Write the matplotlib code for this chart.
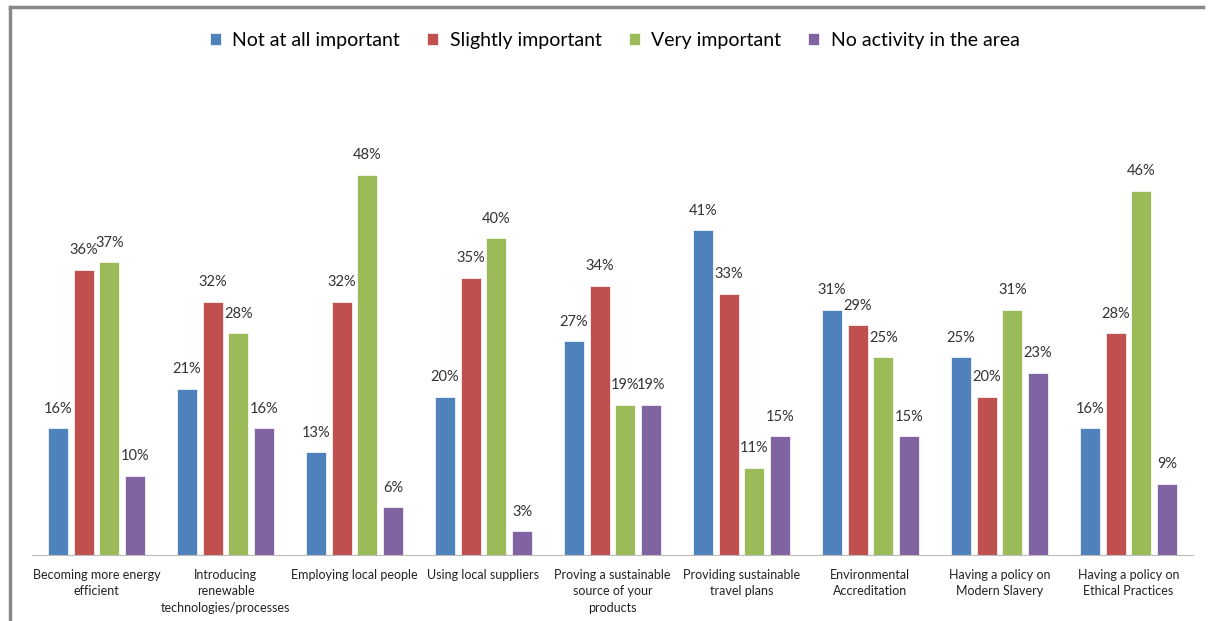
import numpy as np
import matplotlib.pyplot as plt
from matplotlib.lines import Line2D

plt.rcParams['font.family'] = ['Lato', 'DejaVu Sans']

categories = ['Becoming more energy\nefficient',
              'Introducing\nrenewable\ntechnologies/processes',
              'Employing local people',
              'Using local suppliers',
              'Proving a sustainable\nsource of your\nproducts',
              'Providing sustainable\ntravel plans',
              'Environmental\nAccreditation',
              'Having a policy on\nModern Slavery',
              'Having a policy on\nEthical Practices']
series = ['Not at all important', 'Slightly important', 'Very important', 'No activity in the area']
not_at_all = [16, 21, 13, 20, 27, 41, 31, 25, 16]
slightly = [36, 32, 32, 35, 34, 33, 29, 20, 28]
very = [37, 28, 48, 40, 19, 11, 25, 31, 46]
no_activity = [10, 16, 6, 3, 19, 15, 15, 23, 9]
colors = ['#4F81BD', '#C0504D', '#9BBB59', '#8064A2']

fig = plt.figure(figsize=(12.08, 6.21), dpi=100)
ax = fig.add_axes([0.0265, 0.1063, 0.961, 0.765])

x = np.arange(len(categories))
width = 0.155
offsets = [-0.3, -0.1, 0.1, 0.3]
for vals, name, col, off in zip([not_at_all, slightly, very, no_activity], series, colors, offsets):
    bars = ax.bar(x + off, vals, width, color=col, label=name, edgecolor='white', linewidth=0.5)
    for b, v in zip(bars, vals):
        ax.annotate('%d%%' % v, (b.get_x() + b.get_width() / 2, v),
                    xytext=(0, 9), textcoords='offset points',
                    ha='center', va='bottom', fontsize=10.5, color='#333333')

ax.set_xlim(-0.5, len(categories) - 0.5)
ax.set_ylim(0, 60)
ax.set_yticks([])
ax.set_xticks(x)
ax.set_xticklabels(categories, fontsize=9, color='#222222', linespacing=1.45)
ax.tick_params(axis='x', length=0, pad=10)
for s in ['top', 'left', 'right']:
    ax.spines[s].set_visible(False)
ax.spines['bottom'].set_color('#BBBBBB')

fig.legend(loc='upper center', bbox_to_anchor=(0.509, 0.977), ncol=4, frameon=False,
           fontsize=14, handlelength=0.55, handleheight=0.55, handletextpad=0.6, columnspacing=1.4)

# outer frame on top and left
fig.add_artist(Line2D([10 / 1208, 1203 / 1208], [1 - 7 / 621, 1 - 7 / 621], color='#888888', lw=2.5, transform=fig.transFigure))
fig.add_artist(Line2D([10 / 1208, 10 / 1208], [0, 1 - 7 / 621], color='#888888', lw=2.5, transform=fig.transFigure))

fig.savefig('out.png', dpi=100)
